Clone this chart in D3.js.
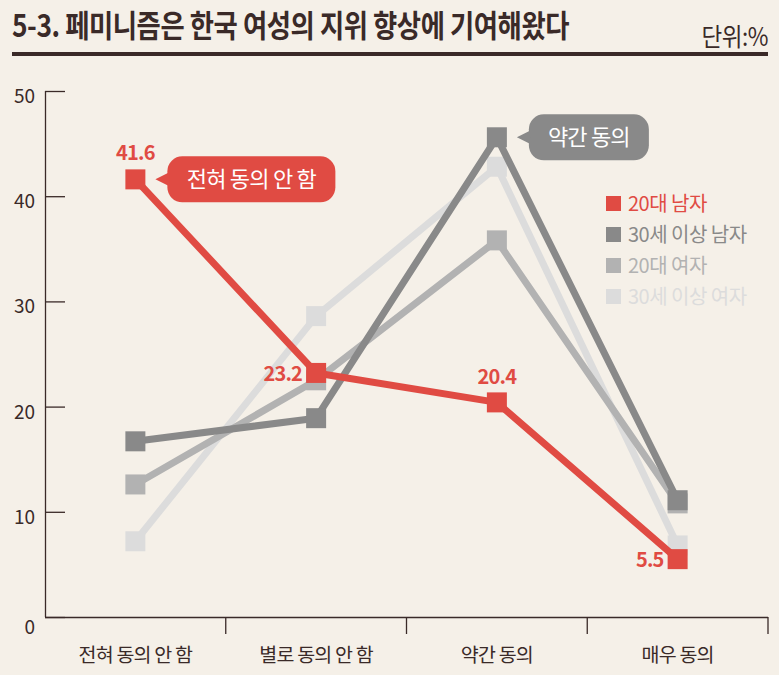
<!DOCTYPE html>
<html><head><meta charset="utf-8">
<script src="https://cdn.jsdelivr.net/npm/d3@7"></script>
<style>
html,body{margin:0;padding:0;background:#f5f0e8;}
svg{display:block;font-family:"Noto Sans CJK KR","Noto Sans",sans-serif;}
</style></head>
<body>
<svg id="c" width="779" height="675"></svg>
<script>
const categories = ["전혀 동의 안 함","별로 동의 안 함","약간 동의","매우 동의"];
const seriesNames = ["20대 남자","30세 이상 남자","20대 여자","30세 이상 여자"];
const men20 = [41.6, 23.2, 20.4, 5.5];
const men30 = [16.7, 18.9, 45.6, 11.1];
const women20 = [12.6, 22.5, 35.8, 10.8];
const women30 = [7.2, 28.6, 42.8, 6.8];
const yTicks = [0,10,20,30,40,50];
const colors = ["#e04b43","#898989","#b2b2b2","#dcdcdc"];

const svg = d3.select("#c");
const W = 779, H = 675;
svg.append("rect").attr("width",W).attr("height",H).attr("fill","#f5f0e8");
const dark = "#3a2a28";

// title
svg.append("text").attr("x",12).attr("y",37)
  .attr("transform","translate(12,0) scale(0.85,1) translate(-12,0)")
  .attr("font-size",31).attr("font-weight",700).attr("fill",dark)
  .attr("letter-spacing",-0.5)
  .text("5-3. 페미니즘은 한국 여성의 지위 향상에 기여해왔다");
svg.append("text").attr("x",768).attr("y",46)
  .attr("transform","translate(768,0) scale(0.9,1) translate(-768,0)")
  .attr("text-anchor","end")
  .attr("font-size",25).attr("fill",dark).attr("letter-spacing",-0.5).text("단위:%");
svg.append("rect").attr("x",12).attr("y",52).attr("width",756).attr("height",4).attr("fill",dark);

const x0 = 45, x1 = 768, yTop = 91, yBot = 617;
const x = d3.scaleBand().domain(categories).range([x0,x1]);
const y = d3.scaleLinear().domain([0,50]).range([yBot,yTop]);

// y axis
const yAxis = d3.axisRight(y).tickValues(yTicks).tickSize(20).tickFormat("");
const gy = svg.append("g").attr("transform",`translate(${x0},0)`).call(yAxis);
gy.selectAll("path, line").attr("stroke",dark).attr("stroke-width",1.3);
gy.select(".domain").attr("d",`M0.5,${yTop}V${yBot}`);
svg.append("g").selectAll("text").data(yTicks).join("text")
  .attr("x",35).attr("y",d=>y(d)+ (d===0?17:12)).attr("text-anchor","end")
  .attr("font-size",19).attr("fill",dark).text(d=>d);

// x axis
svg.append("line").attr("x1",x0).attr("x2",x1).attr("y1",yBot+0.5).attr("y2",yBot+0.5)
  .attr("stroke",dark).attr("stroke-width",1.3);
svg.append("g").selectAll("line").data(categories).join("line")
  .attr("x1",d=>x(d)+x.bandwidth()).attr("x2",d=>x(d)+x.bandwidth())
  .attr("y1",yBot).attr("y2",yBot+17).attr("stroke",dark).attr("stroke-width",1.3);
svg.append("g").selectAll("text").data(categories).join("text")
  .attr("x",d=>x(d)+x.bandwidth()/2).attr("y",662).attr("text-anchor","middle")
  .attr("font-size",19.5).attr("fill",dark).attr("letter-spacing",-0.8).text(d=>d);

const cx = d => x(d)+x.bandwidth()/2;
const allSeries = [men20, men30, women20, women30];
const line = d3.line().x((d,i)=>cx(categories[i])).y(d=>y(d));
const order = [3,2,1,0];
order.forEach(si=>{
  const g = svg.append("g");
  g.append("path").datum(allSeries[si]).attr("d",line).attr("fill","none")
    .attr("stroke",colors[si]).attr("stroke-width",7).attr("stroke-linejoin","round");
  g.selectAll("rect").data(allSeries[si]).join("rect")
    .attr("x",(d,i)=>cx(categories[i])-10).attr("y",d=>y(d)-10)
    .attr("width",20).attr("height",20).attr("fill",colors[si]);
});

// value labels for 20대 남자
const red = colors[0];
const lbl = (txt, xx, yy, anchor) => svg.append("text").attr("x",xx).attr("y",yy)
  .attr("text-anchor",anchor).attr("font-size",20).attr("font-weight",700)
  .attr("fill",red).attr("letter-spacing",-0.8).text(txt);
lbl(men20[0].toFixed(1), cx(categories[0]), y(men20[0])-19, "middle");
lbl(men20[1].toFixed(1), cx(categories[1])-14, y(men20[1])+8, "end");
lbl(men20[2].toFixed(1), cx(categories[2]), y(men20[2])-18, "middle");
lbl(men20[3].toFixed(1), cx(categories[3])-14, y(men20[3])+8, "end");

// callouts
function callout(px, py, w, color, txt){
  const g = svg.append("g");
  const bx = px+32, by = py-23, h = 46;
  g.append("rect").attr("x",bx).attr("y",by).attr("width",w).attr("height",h)
    .attr("rx",15).attr("fill",color);
  g.append("path").attr("d",`M${px+20},${py} L${bx+2},${py-7} L${bx+2},${py+7} Z`).attr("fill",color);
  g.append("text").attr("x",bx+w/2).attr("y",py+8).attr("text-anchor","middle")
    .attr("font-size",22).attr("fill","#fff").attr("letter-spacing",-0.8).text(txt);
}
callout(cx(categories[0]), y(men20[0]), 168, red, categories[0]);
callout(cx(categories[2]), y(men30[2]), 120, colors[1], categories[2]);

// legend
const lg = svg.append("g");
seriesNames.forEach((n,i)=>{
  const yy = 204 + i*31;
  lg.append("rect").attr("x",606).attr("y",yy-8).attr("width",15).attr("height",15).attr("fill",colors[i]);
  lg.append("text").attr("x",628).attr("y",yy+7).attr("font-size",20).attr("fill",colors[i])
    .attr("letter-spacing",-0.5).text(n);
});
</script>
</body></html>
